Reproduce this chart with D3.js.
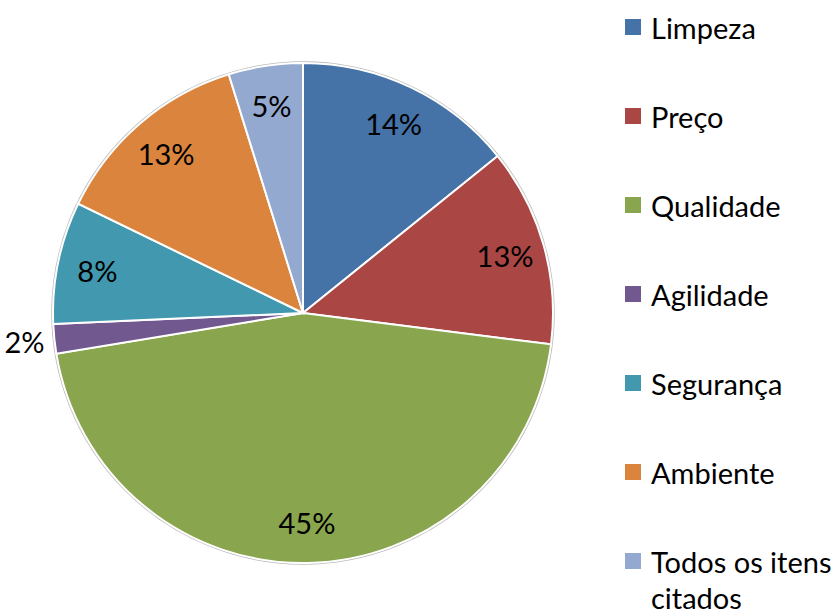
<!DOCTYPE html>
<html>
<head>
<meta charset="utf-8">
<script src="https://cdn.jsdelivr.net/npm/d3@7"></script>
<style>
  body { margin: 0; background: #fff; }
  text { font-family: Lato, "Open Sans", sans-serif; fill: #000; }
</style>
</head>
<body>
<svg id="chart" width="840" height="610"></svg>
<script>
var categories = ['Limpeza', 'Preço', 'Qualidade', 'Agilidade', 'Segurança', 'Ambiente', 'Todos os itens citados'];
var values = [14.2, 12.8, 45.4, 1.9, 7.9, 13.0, 4.8];
var colors = ['#4572a7', '#aa4643', '#89a54e', '#71588f', '#4198af', '#db843d', '#93a9cf'];

var width = 840;
var height = 610;
var radius = 250;
var cx = 303, cy = 313;

var dataset = categories.map(function (c, i) {
    return { name: c, value: values[i], color: colors[i] };
});

var svg = d3.select('#chart');

var g = svg.append('g')
    .attr('transform', 'translate(' + cx + ',' + cy + ')');

var pie = d3.pie()
    .value(function (d) { return d.value; })
    .sort(null);

var arc = d3.arc()
    .outerRadius(radius)
    .innerRadius(0);

var labelArc = d3.arc()
    .outerRadius(420)
    .innerRadius(0);

// faint grey rim round the pie
g.append('circle')
    .attr('r', radius + 1)
    .attr('fill', 'none')
    .attr('stroke', '#bbb')
    .attr('stroke-width', 1.5);

var arcs = g.selectAll('.arc')
    .data(pie(dataset))
    .enter().append('g')
    .attr('class', 'arc');

arcs.append('path')
    .attr('d', arc)
    .style('fill', function (d) { return d.data.color; })
    .style('stroke', '#fff')
    .style('stroke-width', 2);

arcs.append('text')
    .attr('transform', function (d) {
        var c = labelArc.centroid(d);
        // the tiny slice gets its label outside the pie
        if (d.data.value < 3) {
            var a = (d.startAngle + d.endAngle) / 2;
            c = [Math.sin(a) * 280, -Math.cos(a) * 280];
        }
        return 'translate(' + c[0] + ',' + c[1] + ')';
    })
    .attr('text-anchor', 'middle')
    .attr('dominant-baseline', 'central')
    .style('font-size', '29px')
    .text(function (d) { return Math.round(d.data.value) + '%'; });

// legend
var legend = svg.append('g')
    .attr('transform', 'translate(625,27)');

var item = legend.selectAll('.item')
    .data(dataset)
    .enter().append('g')
    .attr('class', 'item')
    .attr('transform', function (d, i) { return 'translate(0,' + (i * 89) + ')'; });

item.append('rect')
    .attr('x', 0)
    .attr('y', -8)
    .attr('width', 16)
    .attr('height', 16)
    .style('fill', function (d) { return d.color; });

item.append('text')
    .attr('x', 26)
    .attr('y', 0)
    .attr('dominant-baseline', 'central')
    .style('font-size', '29px')
    .each(function (d) {
        var t = d3.select(this);
        var words = d.name === 'Todos os itens citados' ? ['Todos os itens', 'citados'] : [d.name];
        words.forEach(function (w, k) {
            t.append('tspan')
                .attr('x', 26)
                .attr('dy', k === 0 ? 0 : 36)
                .text(w);
        });
    });
</script>
</body>
</html>
